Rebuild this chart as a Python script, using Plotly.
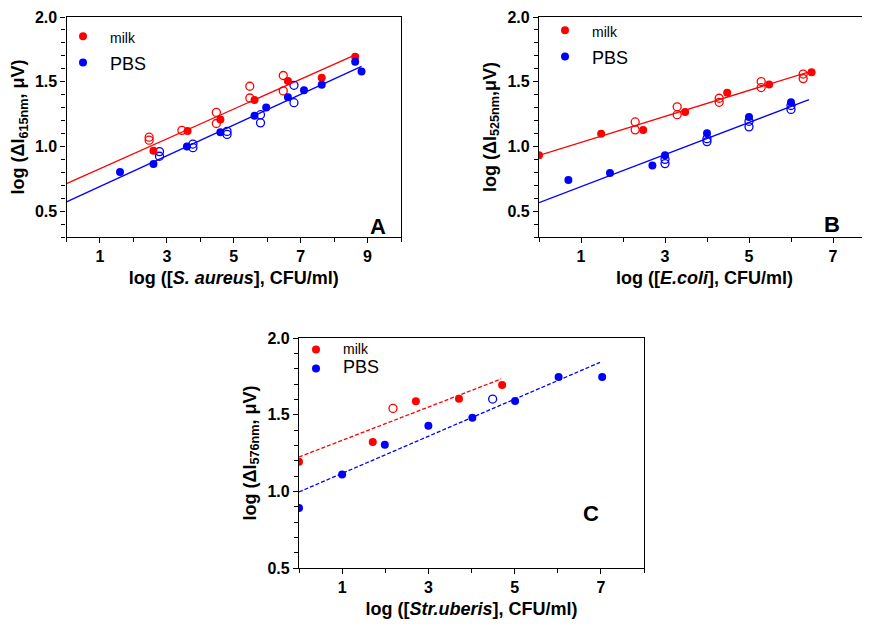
import plotly.graph_objects as go

RED = "#ff0000"
BLUE = "#0000ff"
# the page body adds an 8 px margin, so the figure fills the rest of the 870x626 window
OFF = 8
W, H = 870 - OFF, 626 - OFF

# ---------------- Panel A : S. aureus, 615 nm ----------------
A_milk_x = [2.6, 3.62, 4.6, 5.62, 6.62, 7.63, 8.63]
A_milk_y = [0.967, 1.119, 1.207, 1.359, 1.505, 1.530, 1.692]
A_milk_open_x = [2.47, 2.47, 3.45, 4.48, 4.48, 5.48, 5.48, 6.48, 6.48]
A_milk_open_y = [1.071, 1.048, 1.124, 1.263, 1.177, 1.465, 1.374, 1.548, 1.429]
A_pbs_x = [1.6, 2.6, 3.6, 4.6, 5.62, 5.97, 6.62, 7.1, 7.63, 8.63, 8.82]
A_pbs_y = [0.803, 0.864, 1.0, 1.109, 1.237, 1.301, 1.379, 1.434, 1.477, 1.654, 1.578]
A_pbs_open_x = [2.78, 2.78, 3.78, 3.78, 4.8, 4.8, 5.8, 5.8, 6.8, 6.8]
A_pbs_open_y = [0.960, 0.924, 1.018, 0.990, 1.116, 1.093, 1.245, 1.182, 1.472, 1.338]
A_milk_fit_x = [0.0, 8.63]
A_milk_fit_y = [0.712, 1.707]
A_pbs_fit_x = [0.0, 8.82]
A_pbs_fit_y = [0.571, 1.619]

# ---------------- Panel B : E. coli, 525 nm ----------------
B_milk_x = [0.0, 1.48, 2.48, 3.48, 4.48, 5.48, 6.49]
B_milk_y = [0.931, 1.098, 1.126, 1.265, 1.415, 1.478, 1.574]
B_milk_open_x = [2.29, 2.29, 3.29, 3.29, 4.29, 4.29, 5.29, 5.29, 6.29, 6.29]
B_milk_open_y = [1.189, 1.128, 1.306, 1.245, 1.372, 1.341, 1.501, 1.455, 1.559, 1.524]
B_pbs_x = [0.7, 1.69, 2.7, 3.0, 4.0, 5.0, 6.0]
B_pbs_y = [0.741, 0.794, 0.852, 0.931, 1.101, 1.227, 1.341]
B_pbs_open_x = [3.0, 3.0, 4.0, 4.0, 5.0, 5.0, 6.0, 6.0]
B_pbs_open_y = [0.900, 0.867, 1.060, 1.037, 1.194, 1.151, 1.316, 1.286]
B_milk_fit_x = [0.0, 6.49]
B_milk_fit_y = [0.931, 1.582]
B_pbs_fit_x = [0.0, 6.43]
B_pbs_fit_y = [0.566, 1.362]

# ---------------- Panel C : Str. uberis, 576 nm ----------------
C_milk_x = [0.0, 1.71, 2.71, 3.71, 4.71]
C_milk_y = [1.193, 1.322, 1.587, 1.604, 1.693]
C_milk_open_x = [2.18]
C_milk_open_y = [1.541]
C_pbs_x = [0.0, 1.0, 1.99, 3.0, 4.02, 5.01, 6.02, 7.03]
C_pbs_y = [0.891, 1.109, 1.304, 1.428, 1.480, 1.589, 1.746, 1.746]
C_pbs_open_x = [4.49]
C_pbs_open_y = [1.602]
C_milk_fit_x = [0.0, 4.69]
C_milk_fit_y = [1.224, 1.733]
C_pbs_fit_x = [0.0, 6.98]
C_pbs_fit_y = [0.996, 1.841]

panels = [
    dict(xa="x", ya="y", legend="legend",
         milk=(A_milk_x, A_milk_y), milk_open=(A_milk_open_x, A_milk_open_y),
         pbs=(A_pbs_x, A_pbs_y), pbs_open=(A_pbs_open_x, A_pbs_open_y),
         milk_fit=(A_milk_fit_x, A_milk_fit_y), pbs_fit=(A_pbs_fit_x, A_pbs_fit_y),
         dash="solid"),
    dict(xa="x2", ya="y2", legend="legend2",
         milk=(B_milk_x, B_milk_y), milk_open=(B_milk_open_x, B_milk_open_y),
         pbs=(B_pbs_x, B_pbs_y), pbs_open=(B_pbs_open_x, B_pbs_open_y),
         milk_fit=(B_milk_fit_x, B_milk_fit_y), pbs_fit=(B_pbs_fit_x, B_pbs_fit_y),
         dash="solid"),
    dict(xa="x3", ya="y3", legend="legend3",
         milk=(C_milk_x, C_milk_y), milk_open=(C_milk_open_x, C_milk_open_y),
         pbs=(C_pbs_x, C_pbs_y), pbs_open=(C_pbs_open_x, C_pbs_open_y),
         milk_fit=(C_milk_fit_x, C_milk_fit_y), pbs_fit=(C_pbs_fit_x, C_pbs_fit_y),
         dash="4px,2px"),
]

fig = go.Figure()
MS = 8
for p in panels:
    common = dict(xaxis=p["xa"], yaxis=p["ya"], legend=p["legend"], hoverinfo="skip")
    fig.add_trace(go.Scatter(x=p["milk_fit"][0], y=p["milk_fit"][1], mode="lines",
                             line=dict(color=RED, width=1.3, dash=p["dash"]),
                             showlegend=False, **common))
    fig.add_trace(go.Scatter(x=p["pbs_fit"][0], y=p["pbs_fit"][1], mode="lines",
                             line=dict(color=BLUE, width=1.3, dash=p["dash"]),
                             showlegend=False, **common))
    fig.add_trace(go.Scatter(x=p["milk_open"][0], y=p["milk_open"][1], mode="markers",
                             marker=dict(symbol="circle-open", size=MS, color=RED,
                                         line=dict(width=1.3, color=RED)),
                             showlegend=False, **common))
    fig.add_trace(go.Scatter(x=p["pbs_open"][0], y=p["pbs_open"][1], mode="markers",
                             marker=dict(symbol="circle-open", size=MS, color=BLUE,
                                         line=dict(width=1.3, color=BLUE)),
                             showlegend=False, **common))
    fig.add_trace(go.Scatter(x=p["milk"][0], y=p["milk"][1], mode="markers",
                             marker=dict(symbol="circle", size=MS, color=RED),
                             name="<span style='font-size:14px'>milk</span>",
                             showlegend=True, **common))
    fig.add_trace(go.Scatter(x=p["pbs"][0], y=p["pbs"][1], mode="markers",
                             marker=dict(symbol="circle", size=MS, color=BLUE),
                             name="<span style='font-size:18px'>PBS</span>",
                             showlegend=True, **common))

FONT = "Liberation Sans, Arial, sans-serif"
tickfont = dict(family=FONT, size=16, color="black", weight="bold")
titlefont = dict(family=FONT, size=18, color="black", weight="bold")


def px_x(v):
    """window pixel -> paper x"""
    return (v - OFF) / W


def px_y(v):
    """window pixel -> paper y"""
    return 1 - (v - OFF) / H


def xaxis(domain, rng, title, anchor, standoff):
    return dict(domain=domain, range=rng, anchor=anchor, automargin=False,
                tickmode="linear", tick0=1, dtick=2, ticklabeloverflow="allow",
                ticks="outside", ticklen=5, tickwidth=1.2, tickcolor="black",
                minor=dict(tickmode="linear", dtick=1, ticks="outside", ticklen=4,
                           tickwidth=1.2, tickcolor="black"),
                showline=True, linecolor="black", linewidth=1.3, mirror=True,
                showgrid=False, zeroline=False, tickfont=tickfont,
                title=dict(text=title, font=titlefont, standoff=standoff))


def yaxis(domain, rng, title, anchor, mirror, standoff):
    return dict(domain=domain, range=rng, anchor=anchor, automargin=False,
                tickmode="linear", tick0=0.5, dtick=0.5, tickformat=".1f",
                ticklabeloverflow="allow",
                ticks="outside", ticklen=5, tickwidth=1.2, tickcolor="black",
                minor=dict(tickmode="linear", dtick=0.1, ticks="outside", ticklen=4,
                           tickwidth=1.2, tickcolor="black"),
                showline=True, linecolor="black", linewidth=1.3, mirror=mirror,
                showgrid=False, zeroline=False, tickfont=tickfont,
                title=dict(text=title, font=titlefont, standoff=standoff))


layout = dict(
    width=W, height=H, margin=dict(l=0, r=0, t=0, b=0, autoexpand=False),
    paper_bgcolor="white", plot_bgcolor="white",
    font=dict(family=FONT, color="black"),
    xaxis=xaxis([px_x(66.5), px_x(401)], [0, 10],
                "log ([<i>S. aureus</i>], CFU/ml)", "y", 7),
    yaxis=yaxis([px_y(237), px_y(17)], [0.3, 2.0],
                "log (ΔI<sub>615nm</sub>, μV)", "x", True, 6),
    xaxis2=xaxis([px_x(539), 1.0], [0, 331 / 42],
                 "log ([<i>E.coli</i>], CFU/ml)", "y2", 7),
    yaxis2=yaxis([px_y(237), px_y(17)], [0.3, 2.0],
                 "log (ΔI<sub>525nm</sub>,μV)", "x2", False, 6),
    xaxis3=xaxis([px_x(299), px_x(644)], [0, 8],
                 "log ([<i>Str.uberis</i>], CFU/ml)", "y3", 7),
    yaxis3=yaxis([px_y(568), px_y(338)], [0.5, 2.0],
                 "log (ΔI<sub>576nm</sub>, μV)", "x3", True, 6),
)

leg_common = dict(bgcolor="rgba(0,0,0,0)", borderwidth=0, xanchor="left", yanchor="top",
                  font=dict(family=FONT, size=18, color="black"), tracegroupgap=0,
                  itemwidth=44)
layout["legend"] = dict(x=px_x(56), y=px_y(18), **leg_common)
layout["legend2"] = dict(x=px_x(538), y=px_y(12), **leg_common)
layout["legend3"] = dict(x=px_x(289), y=px_y(335),
                         **{**leg_common, "font": dict(family=FONT, size=12, color="black")})

letter_font = dict(family=FONT, size=22, color="black", weight="bold")
layout["annotations"] = [
    dict(text="A", x=px_x(378), y=px_y(212), xref="paper", yref="paper",
         showarrow=False, font=letter_font),
    dict(text="B", x=px_x(842), y=px_y(210), xref="paper", yref="paper",
         showarrow=False, font=letter_font),
    dict(text="C", x=px_x(601), y=px_y(528), xref="paper", yref="paper",
         showarrow=False, font=letter_font),
]

fig.update_layout(**layout)
fig.write_html("out.html")
